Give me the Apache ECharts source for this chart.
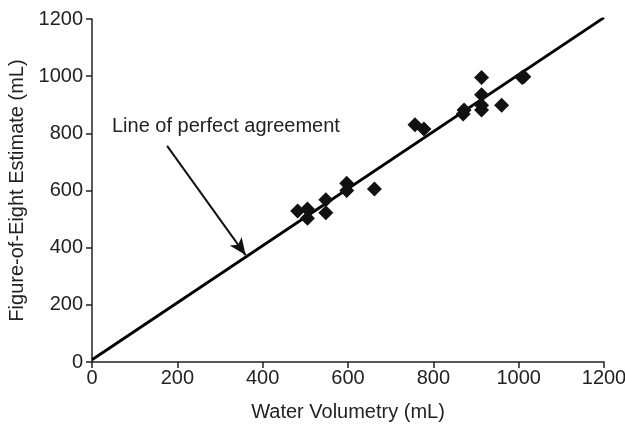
<!DOCTYPE html>
<html>
<head>
<meta charset="utf-8">
<script src="https://cdn.jsdelivr.net/npm/echarts@6/dist/echarts.min.js"></script>
<style>
  html, body { margin: 0; padding: 0; background: #fff; }
  #main { width: 625px; height: 425px; }
</style>
</head>
<body>
<div id="main"></div>
<script>
  // water volumetry vs figure-of-eight estimate (mL)
  var waterVol = [482, 505, 505, 548, 548, 597, 597, 662, 757, 778, 870, 872, 913, 913, 913, 913, 960, 1008, 1012];
  var fig8Est  = [528, 535, 503, 568, 522, 625, 600, 605, 830, 815, 868, 882, 995, 935, 898, 882, 898, 995, 998];
  var agreeLine = [[0, 8], [1200, 1205]];
  var arrowFrom = [176, 756];
  var arrowTo = [360, 374];
  var axisTicks = [0, 200, 400, 600, 800, 1000, 1200];

  var points = waterVol.map(function (x, i) { return [x, fig8Est[i]]; });
  var font = 'Liberation Sans, Arial, sans-serif';

  var chart = echarts.init(document.getElementById('main'));
  var axisBase = {
    type: 'value',
    min: axisTicks[0],
    max: axisTicks[axisTicks.length - 1],
    interval: axisTicks[1] - axisTicks[0],
    splitLine: { show: false },
    axisLine: { show: true, lineStyle: { color: '#222', width: 1.5 } },
    axisTick: { show: true, length: 6, lineStyle: { color: '#222', width: 1.5 } },
    axisLabel: { color: '#222', fontSize: 20, fontFamily: font, formatter: function (v) { return String(v); } },
    nameLocation: 'middle',
    nameTextStyle: { color: '#222', fontSize: 20, fontFamily: font }
  };

  var option = {
    animation: false,
    grid: { left: 92, right: 21, top: 19, bottom: 63, outerBoundsMode: 'none', containLabel: false },
    xAxis: Object.assign({}, axisBase, {
      name: 'Water Volumetry (mL)',
      nameGap: 40,
      axisLabel: Object.assign({}, axisBase.axisLabel, { margin: 6 })
    }),
    yAxis: Object.assign({}, axisBase, {
      name: 'Figure-of-Eight Estimate (mL)',
      nameGap: 63,
      axisLabel: Object.assign({}, axisBase.axisLabel, { margin: 9 })
    }),
    graphic: [{
      type: 'text',
      left: 112,
      top: 116,
      style: { text: 'Line of perfect agreement', fill: '#222', fontSize: 20, fontFamily: font }
    }],
    series: [{
      type: 'line',
      data: agreeLine,
      symbol: 'none',
      lineStyle: { color: '#000', width: 2.8 },
      z: 2,
      markLine: {
        silent: true,
        symbol: ['none', 'arrow'],
        symbolSize: [11, 17],
        label: { show: false },
        lineStyle: { color: '#111', width: 2, type: 'solid' },
        data: [[{ coord: arrowFrom }, { coord: arrowTo }]]
      }
    }, {
      type: 'scatter',
      data: points,
      symbol: 'diamond',
      symbolSize: 15,
      itemStyle: { color: '#111', opacity: 1 },
      z: 3
    }]
  };
  chart.setOption(option);
</script>
</body>
</html>
